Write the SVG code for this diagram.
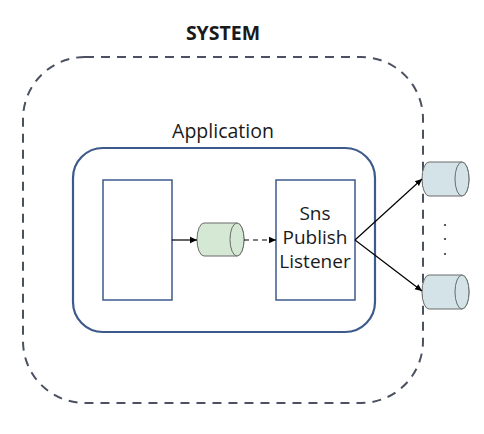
<svg xmlns="http://www.w3.org/2000/svg" width="484" height="434" viewBox="0 0 484 434">
<defs>
<style>
.t{font-family:"Open Sans","Noto Sans",sans-serif;fill:#1a1a1a;text-anchor:middle}
.box{fill:#fff;stroke:#3e5a8c;stroke-width:1.5}
.cyl{stroke:#6b6b6b;stroke-width:1}
.g{fill:#d5e8d4}
.b{fill:#d3e3e8}
.ln{stroke:#000;stroke-width:1.2;fill:none}
</style>
<marker id="ah" markerWidth="8" markerHeight="8" refX="7" refY="4" orient="auto" markerUnits="userSpaceOnUse">
<path d="M0,0.8 L7,4 L0,7.2 Z" fill="#000"/>
</marker>
</defs>
<rect width="484" height="434" fill="#fff"/>
<g id="system">
<rect x="23" y="57" width="400" height="346" rx="62" ry="62" fill="none" stroke="#4b5161" stroke-width="2" stroke-dasharray="9,7"/>
<text class="t" x="223" y="40" font-size="19.5" font-weight="bold">SYSTEM</text>
</g>
<g id="application">
<rect x="73" y="148" width="302" height="184" rx="30" ry="30" fill="none" stroke="#3e5a8c" stroke-width="2.2"/>
<text class="t" x="223" y="138" font-size="19.5">Application</text>
</g>
<g id="source">
<rect class="box" x="103" y="180" width="69" height="120"/>
</g>
<g id="listener">
<rect class="box" x="276" y="180" width="79" height="120"/>
<text class="t" x="315" y="220" font-size="19">Sns</text>
<text class="t" x="315" y="244" font-size="19">Publish</text>
<text class="t" x="315" y="268" font-size="19">Listener</text>
</g>
<g id="queue">
<path class="cyl g" d="M204,223 H237 A7,16.5 0 0 1 237,256 H204 A7,16.5 0 0 1 204,223 Z"/>
<ellipse class="cyl g" cx="237" cy="239.5" rx="7" ry="16.5"/>
</g>
<g id="topic1">
<path class="cyl b" d="M429,162 H462 A7,17 0 0 1 462,196 H429 A7,17 0 0 1 429,162 Z"/>
<ellipse class="cyl b" cx="462" cy="179" rx="7" ry="17"/>
</g>
<g id="topic2">
<path class="cyl b" d="M429,275 H462 A7,17 0 0 1 462,309 H429 A7,17 0 0 1 429,275 Z"/>
<ellipse class="cyl b" cx="462" cy="292" rx="7" ry="17"/>
</g>
<g id="dots" fill="#333">
<circle cx="445" cy="225" r="1.1"/>
<circle cx="445" cy="239" r="1.1"/>
<circle cx="445" cy="254" r="1.1"/>
</g>
<g id="connectors">
<line class="ln" x1="172" y1="240" x2="197" y2="240" marker-end="url(#ah)"/>
<line class="ln" x1="244" y1="240" x2="276" y2="240" stroke-dasharray="5,4" marker-end="url(#ah)"/>
<line class="ln" x1="355" y1="240" x2="422" y2="179" marker-end="url(#ah)"/>
<line class="ln" x1="355" y1="240" x2="422" y2="291" marker-end="url(#ah)"/>
</g>
</svg>
